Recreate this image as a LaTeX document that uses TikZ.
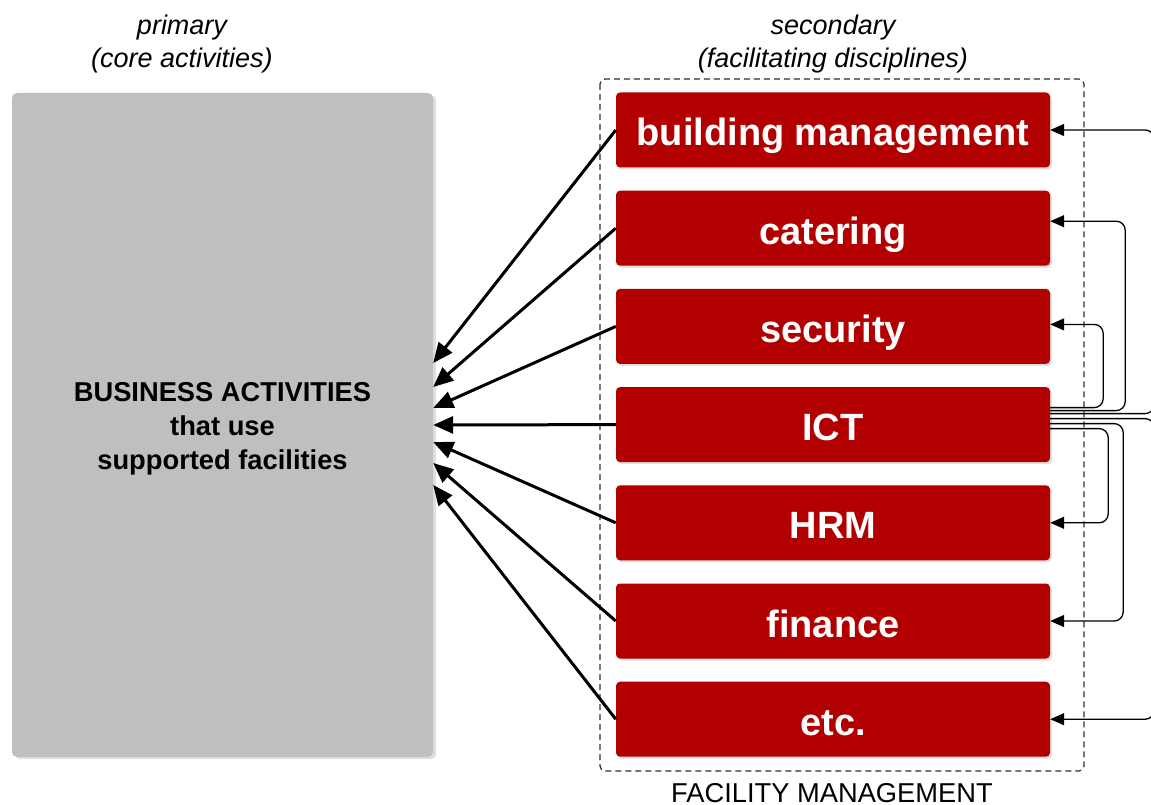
\documentclass[tikz,border=0pt]{standalone}
\usepackage{fontspec}
\setmainfont{Liberation Sans}
\usetikzlibrary{arrows.meta,shadows}

\definecolor{fmred}{RGB}{178,0,0}
\definecolor{coregray}{RGB}{191,191,191}
\definecolor{framegray}{RGB}{45,45,45}

\tikzset{
  discipline/.style={fill=fmred, rounded corners=4pt, minimum width=434pt,
    minimum height=75pt, text=white, inner sep=0pt,
    text height=32pt, text depth=0pt,
    font=\bfseries\fontsize{38}{44}\selectfont,
    drop shadow={opacity=0.25, shadow xshift=2pt, shadow yshift=-2pt}},
  corebox/.style={fill=coregray, rounded corners=5pt, minimum width=421pt,
    minimum height=664pt, inner sep=0pt,
    drop shadow={opacity=0.25, shadow xshift=3pt, shadow yshift=-2pt}},
  coretext/.style={align=center, inner sep=0pt,
    font=\bfseries\fontsize{27.3}{34}\selectfont},
  note/.style={align=center, inner sep=0pt, font=\itshape\fontsize{27}{33}\selectfont},
  bigarrow/.style={line width=3pt, -{Triangle[length=20pt,width=17pt]}},
  linkarrow/.style={line width=1.3pt, rounded corners=9pt,
    -{Triangle[length=14pt,width=12pt]}}
}

\begin{document}
\begin{tikzpicture}[x=1pt,y=-1pt]
  \clip (0,0) rectangle (1151,805);

  % Define the headings
  \node[note] (prim) at (182,44.5) {primary\\(core activities)};
  \node[note] (sec2) at (833,44.5) {secondary\\(facilitating disciplines)};

  % Core activities
  \node[corebox] (core) at (222.5,425) {};
  \node[coretext] (coretxt) at ([yshift=-4pt]core.center) {BUSINESS ACTIVITIES\\that use\\supported facilities};

  % Facility management frame
  \draw[framegray, line width=1.2pt, dash pattern=on 6pt off 4pt, rounded corners=5pt]
    (600,79) rectangle (1084,771);
  \node[inner sep=0pt, font=\fontsize{27.3}{33}\selectfont] (fmlabel) at (832,793) {FACILITY MANAGEMENT};

  % Define the disciplines
  \node[discipline] (bm)   at (833,130.0) {building management};
  \node[discipline] (cat)  at (833,228.2) {catering};
  \node[discipline] (sec)  at (833,326.4) {security};
  \node[discipline] (ict)  at (833,424.6) {ICT};
  \node[discipline] (hrm)  at (833,522.8) {HRM};
  \node[discipline] (fin)  at (833,621.0) {finance};
  \node[discipline] (misc) at (833,719.2) {etc.};

  % Support of the core activities
  \draw[bigarrow] (bm.west)   -- ([yshift=62pt]core.east);
  \draw[bigarrow] (cat.west)  -- ([yshift=38pt]core.east);
  \draw[bigarrow] (sec.west)  -- ([yshift=17pt]core.east);
  \draw[bigarrow] (ict.west)  -- (core.east);
  \draw[bigarrow] (hrm.west)  -- ([yshift=-17pt]core.east);
  \draw[bigarrow] (fin.west)  -- ([yshift=-38pt]core.east);
  \draw[bigarrow] (misc.west) -- ([yshift=-60pt]core.east);

  % ICT serves the other disciplines
  \draw[linkarrow] ([yshift=11pt]ict.east) -| ([xshift=104pt]bm.east) -- (bm.east);
  \draw[linkarrow] ([yshift=14pt]ict.east) -| ([xshift=75pt,yshift=7pt]cat.east) -- ([yshift=7pt]cat.east);
  \draw[linkarrow] ([yshift=17pt]ict.east) -| ([xshift=53pt,yshift=2pt]sec.east) -- ([yshift=2pt]sec.east);
  \draw[linkarrow] ([yshift=-4pt]ict.east) -| ([xshift=58pt]hrm.east) -- (hrm.east);
  \draw[linkarrow] ([yshift=1pt]ict.east) -| ([xshift=73pt]fin.east) -- (fin.east);
  \draw[linkarrow] ([yshift=6pt]ict.east) -| ([xshift=104pt]misc.east) -- (misc.east);

\end{tikzpicture}
\end{document}
